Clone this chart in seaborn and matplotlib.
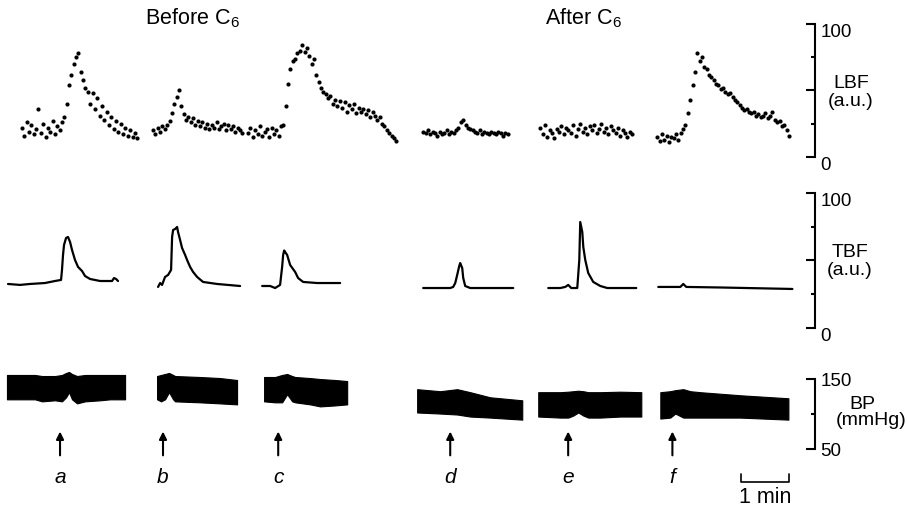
import matplotlib
matplotlib.use('Agg')
import matplotlib.pyplot as plt
import numpy as np
import pandas as pd
import seaborn as sns

# stimulus markers (time in s)
stim_labels = ['a', 'b', 'c', 'd', 'e', 'f']
stim_times = [76.6, 208, 355, 574.5, 725, 858]

# LBF (a.u.), one sample every 3 s from each start time
lbf_dt = 3.0
lbf_start = [28.1, 195.3, 316.6, 540.0, 689.4, 838.7]
lbf_vals = [
    [22, 16, 26, 19, 24, 17, 21, 36, 18, 25, 15, 22, 19, 27, 17, 23, 20, 26,
     30, 40, 54, 62, 70, 75, 78, 64, 58, 52, 49, 40, 48, 36, 44, 31, 38, 28,
     34, 24, 30, 21, 27, 19, 25, 17, 22, 16, 20, 15, 18, 14],
    [20, 17, 22, 19, 23, 21, 24, 27, 33, 40, 45, 50, 38, 32, 28, 30, 26, 29,
     24, 27, 23, 26, 22, 25, 21, 24, 22, 26, 21, 23, 25, 20, 24, 21, 23, 19,
     22, 20, 18],
    [18, 22, 15, 20, 17, 23, 16, 19, 21, 15, 22, 17, 20, 16, 23, 24, 38, 55,
     66, 72, 74, 78, 80, 84, 79, 82, 76, 70, 74, 62, 56, 52, 49, 47, 44, 46,
     40, 43, 38, 42, 37, 41, 34, 39, 36, 40, 33, 37, 34, 36, 32, 35, 30, 34,
     31, 28, 30, 25, 23, 20, 18, 16, 14, 12],
    [19, 18, 20, 17, 19, 18, 16, 19, 17, 18, 20, 17, 19, 18, 20, 22, 26, 28,
     24, 22, 21, 20, 19, 18, 20, 17, 19, 18, 17, 19, 18, 17, 19, 18, 16, 18,
     17],
    [22, 17, 24, 15, 20, 18, 14, 21, 19, 23, 17, 22, 20, 18, 24, 16, 21, 25,
     19, 22, 17, 23, 20, 24, 18, 21, 25, 19, 22, 17, 23, 20, 18, 22, 16, 20,
     18, 15, 19, 17],
    [15, 12, 17, 13, 16, 11, 15, 14, 17, 13, 18, 21, 24, 33, 43, 54, 64, 78,
     72, 75, 68, 66, 62, 60, 58, 55, 54, 51, 52, 49, 47, 48, 45, 43, 41, 39,
     37, 35, 36, 34, 33, 34, 31, 32, 30, 31, 33, 29, 31, 34, 28, 26, 27, 23,
     24, 20, 16],
]

# TBF (a.u.)
tbf_time = [
    [10.2, 25.5, 38.3, 57.4, 70.2, 77.9, 79.1, 80.4, 81.7, 84.3, 86.8, 89.4,
     91.9, 95.7, 99.6, 104.7, 108.5, 114.9, 127.7, 143, 145.5, 148.1, 150.6],
    [201.7, 204.3, 206.8, 210.6, 214.5, 218.3, 219.6, 220.9, 223.4, 226,
     227.2, 229.8, 232.3, 236.2, 238.7, 242.6, 246.4, 251.5, 259.1, 277, 306.4],
    [334.5, 344.7, 351.1, 357.4, 360, 361.3, 362.6, 363.8, 366.4, 370.2,
     376.6, 380.4, 386.8, 404.7, 434],
    [540, 574.5, 578.3, 580.9, 583.4, 586, 587.2, 589.8, 591.1, 593.6, 600,
     654.9],
    [699.6, 714.9, 721.3, 725.1, 728.9, 736.6, 739.2, 740.4, 743, 744.3,
     746.8, 750.6, 757, 766, 774.9, 811.9],
    [840, 868.1, 871.9, 875.7, 919.1, 1011.1],
]
tbf_vals = [
    [32.6, 31.9, 32.6, 33.3, 34.8, 35.6, 43, 54, 61.5, 66.7, 67.4, 63.7,
     57.8, 50.4, 45.2, 42.2, 38.5, 36.3, 34.8, 34.8, 37, 36.3, 34.8],
    [30.4, 33.3, 31.9, 37.8, 39.3, 43, 67.4, 72.6, 73.3, 74.8, 71.1, 65.2,
     59.3, 54.1, 50.4, 45.2, 41.5, 37.8, 34.1, 32.6, 31.1],
    [31.1, 31.1, 29.6, 31.9, 45.2, 54.1, 57.4, 56.3, 54.1, 46.7, 41.5, 37,
     34.1, 33.3, 33.3],
    [29.6, 29.6, 30.4, 33.3, 39.3, 45.9, 48.1, 44.4, 37, 31.1, 29.6, 29.6],
    [29.6, 29.6, 30.4, 31.9, 29.6, 29.6, 50.4, 78.5, 71.1, 60, 50.4, 40.7,
     34.1, 31.1, 29.6, 29.6],
    [30.4, 30.4, 32.6, 30.4, 30, 28.9],
]

# BP (mmHg): upper and lower envelope of the pulsatile trace
bp_time = [
    [8.9, 44.7, 53.6, 70.2, 79.1, 84.3, 88.1, 91.9, 98.3, 108.5, 127.7,
     140.4, 159.6],
    [200.4, 205.5, 210.6, 215.7, 220.9, 223.4, 255.3, 280.9, 302.5],
    [337, 351.1, 360, 366.4, 372.8, 376.6, 395.7, 408.5, 427.7, 443],
    [532.3, 561.7, 583.4, 600, 625.5, 666.4],
    [686.8, 714.9, 725.1, 731.5, 737.9, 744.3, 750.6, 766, 791.5, 818.3],
    [842.6, 855.3, 861.7, 871.9, 880.9, 893.6, 944.7, 1006],
]
bp_high = [
    [155.8, 155.8, 154.3, 154.3, 155.8, 158.7, 160.1, 157.2, 154.3, 155.8,
     155.8, 155.8, 155.8],
    [154.3, 155.8, 157.2, 158.7, 155.8, 154.3, 152.9, 151.4, 148.6],
    [152.9, 152.9, 155.8, 157.2, 154.3, 152.9, 151.4, 150, 148.6, 147.1],
    [135.5, 132.6, 135.5, 131.2, 123.9, 119.6],
    [131.2, 131.2, 131.9, 132.6, 133.3, 132.6, 131.2, 131.2, 131.9, 131.2],
    [131.2, 132.6, 134.1, 135.5, 132.6, 131.2, 126.8, 122.5],
]
bp_low = [
    [121, 121, 118.1, 119.6, 118.1, 123.9, 131.2, 121, 115.2, 118.1, 119.6,
     121, 121],
    [121, 118.1, 121, 131.2, 121, 118.1, 116.7, 115.2, 113.8],
    [118.1, 116.7, 116.7, 128.3, 118.1, 116.7, 113.8, 110.9, 112.3, 113.8],
    [102.2, 100.7, 99.3, 96.4, 94.9, 92],
    [96.4, 94.9, 94.9, 97.8, 102.2, 97.8, 94.9, 94.9, 96.4, 96.4],
    [93.5, 94.9, 100.7, 94.9, 94.9, 94.9, 94.9, 92],
]

sns.set_style('white')
plt.rcParams['font.family'] = ['Liberation Sans', 'DejaVu Sans']
plt.rcParams['mathtext.fontset'] = 'custom'
plt.rcParams['mathtext.rm'] = 'Liberation Sans'
for k in ['text.color', 'axes.labelcolor', 'xtick.color', 'ytick.color',
          'axes.edgecolor']:
    plt.rcParams[k] = 'black'

lbf_rows = []
for i, vals in enumerate(lbf_vals):
    t = lbf_start[i] + lbf_dt * np.arange(len(vals))
    lbf_rows.append(pd.DataFrame({'t': t, 'v': vals, 'seg': stim_labels[i]}))
lbf = pd.concat(lbf_rows)

fig = plt.figure(figsize=(9.07, 5.12), dpi=100)
W = 0.8986
ax1 = fig.add_axes([0, 0.6934, W, 0.2598])
ax2 = fig.add_axes([0, 0.3594, W, 0.2637])
ax3 = fig.add_axes([0, 0.1230, W, 0.1367])

sns.scatterplot(data=lbf, x='t', y='v', ax=ax1, color='black', s=9,
                linewidth=0, legend=False, clip_on=False)

for i in range(len(tbf_time)):
    sns.lineplot(x=tbf_time[i], y=tbf_vals[i], ax=ax2, color='black',
                 lw=1.6, clip_on=False)

for i in range(len(bp_time)):
    ax3.fill_between(bp_time[i], bp_low[i], bp_high[i], color='black',
                     lw=0.8, clip_on=False)

for ax, lo, hi, major, labels, minor in [
        (ax1, 0, 100, [0, 50, 100], ['0', '', '100'], [25, 75]),
        (ax2, 0, 100, [0, 50, 100], ['0', '', '100'], [25, 75]),
        (ax3, 50, 150, [50, 150], ['50', '150'], [100])]:
    ax.set_xlim(0, 1040)
    ax.set_ylim(lo, hi)
    for s in ['left', 'top', 'bottom']:
        ax.spines[s].set_visible(False)
    ax.spines['right'].set_linewidth(1.5)
    ax.set_xticks([])
    ax.yaxis.tick_right()
    ax.set_yticks(major)
    ax.set_yticklabels(labels)
    ax.set_yticks(minor, minor=True)
    ax.tick_params(axis='y', which='major', direction='in', length=6.5,
                   width=1.5, labelsize=13.5, pad=4)
    ax.tick_params(axis='y', which='minor', direction='in', length=3,
                   width=1.5)
    ax.set_xlabel('')
    ax.set_ylabel('')
    ax.patch.set_alpha(0)

for ax in (ax1, ax2):
    for lab in ax.get_yticklabels():
        lab.set_va('top')

ax1.text(1.0442, 0.485, 'LBF\n(a.u.)', transform=ax1.transAxes, ha='center',
         va='center', fontsize=14, linespacing=1.1)
ax2.text(1.0430, 0.49, 'TBF\n(a.u.)', transform=ax2.transAxes, ha='center',
         va='center', fontsize=14, linespacing=1.1)
ax3.text(1.0577, 0.643, 'BP', transform=ax3.transAxes, ha='center',
         va='center', fontsize=14)
ax3.text(1.0687, 0.414, '(mmHg)', transform=ax3.transAxes, ha='center',
         va='center', fontsize=14)

for t, lab in zip(stim_times, stim_labels):
    ax3.annotate('', xy=(t, 79), xytext=(t, 37),
                 arrowprops=dict(arrowstyle='-|>', lw=1.5, color='black',
                                 mutation_scale=11),
                 annotation_clip=False)
    ax3.text(t, 9.4, lab, ha='center', va='center', fontsize=15,
             fontstyle='italic', clip_on=False)

# 1 min scale bar
ax3.plot([945.6, 945.6, 1006.4, 1006.4], [13.8, 2.2, 2.2, 13.8],
         color='black', lw=1.2, clip_on=False)
ax3.text(976, -19.5, '1 min', ha='center', va='center', fontsize=15.5,
         clip_on=False)

fig.text(192 / 907, 1 - 18 / 512, r'Before C$_{\mathregular{6}}$',
         ha='center', va='center', fontsize=15.5)
fig.text(583 / 907, 1 - 18 / 512, r'After C$_{\mathregular{6}}$',
         ha='center', va='center', fontsize=15.5)

fig.savefig('out.png', dpi=100)
plt.close('all')
